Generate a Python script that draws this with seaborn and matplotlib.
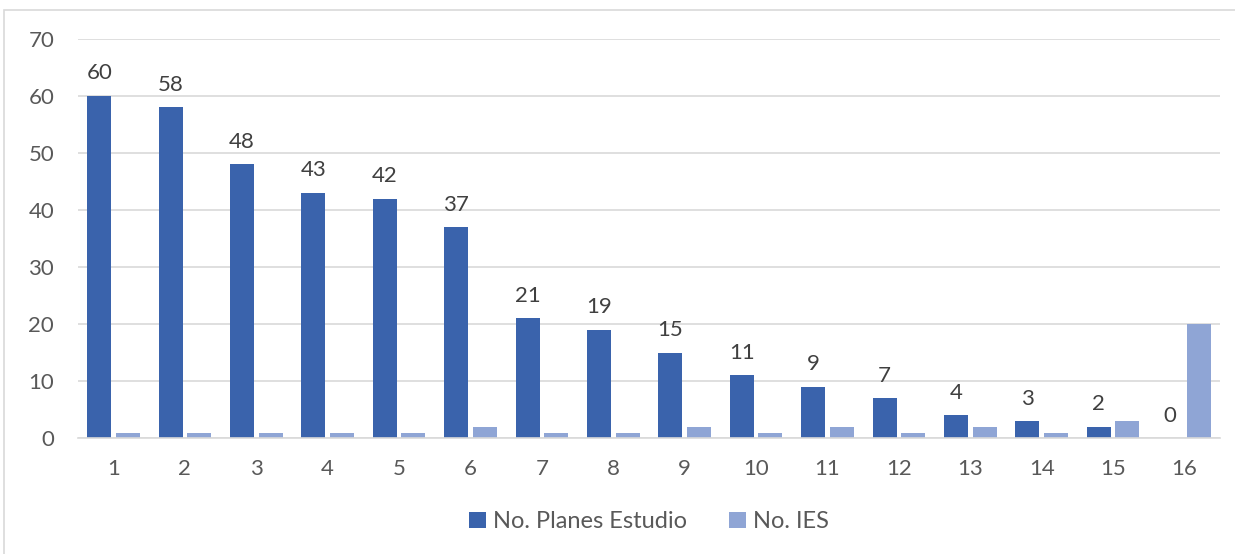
import matplotlib
matplotlib.use("Agg")
import matplotlib.pyplot as plt
import seaborn as sns
import pandas as pd
from matplotlib.patches import Rectangle

categories = [str(i) for i in range(1, 17)]
planes = [60, 58, 48, 43, 42, 37, 21, 19, 15, 11, 9, 7, 4, 3, 2, 0]
ies = [1, 1, 1, 1, 1, 2, 1, 1, 2, 1, 2, 1, 2, 1, 3, 20]
series_names = ["No. Planes Estudio", "No. IES"]
colors = ["#3A63AC", "#8FA5D5"]
yticks = [0, 10, 20, 30, 40, 50, 60, 70]

df = pd.DataFrame({
    "cat": categories * 2,
    "value": planes + ies,
    "serie": [series_names[0]] * len(categories) + [series_names[1]] * len(categories),
})

sns.set_theme(style="white")
plt.rcParams["font.family"] = ["Lato", "DejaVu Sans"]
txt = "#595959"

fig = plt.figure(figsize=(12.35, 5.54), dpi=100)
ax = fig.add_axes([0.063, 0.209, 0.925, 0.721])
fig.patches.append(Rectangle((0.003, -0.01), 1.0, 0.992, transform=fig.transFigure,
                             fill=False, edgecolor="#D9D9D9", linewidth=1.2))

sns.barplot(data=df, x="cat", y="value", hue="serie", order=categories,
            hue_order=series_names, palette=colors, width=0.8, gap=0.16,
            saturation=1, linewidth=0, ax=ax, legend=True)

ax.set_ylim(0, 70)
ax.set_xlim(-0.5, 15.5)
ax.set_yticks(yticks)
ax.set_yticklabels([str(t) for t in yticks])
ax.grid(axis="y", color="#D9D9D9", linewidth=1.2)
ax.set_axisbelow(True)
for s in ["top", "right", "left"]:
    ax.spines[s].set_visible(False)
ax.spines["bottom"].set_color("#D9D9D9")
ax.spines["bottom"].set_linewidth(1.2)
ax.tick_params(axis="both", length=0, labelsize=16, colors=txt)
ax.tick_params(axis="y", pad=17)
ax.tick_params(axis="x", pad=15)
ax.set_xlabel("")
ax.set_ylabel("")

container = ax.containers[0]
for bar, v in zip(container, planes):
    ax.annotate(str(v), (bar.get_x() + bar.get_width() / 2, v),
                xytext=(0, 9), textcoords="offset points",
                ha="center", va="bottom", fontsize=16, color="#404040")

handles, labels = ax.get_legend_handles_labels()
ax.legend(handles, labels, loc="upper center", bbox_to_anchor=(0.5, -0.13),
          ncol=2, frameon=False, fontsize=17, labelcolor=txt,
          handlelength=0.7, handleheight=0.7, handletextpad=0.3, columnspacing=1.8)

fig.savefig("out.png", dpi=100)
